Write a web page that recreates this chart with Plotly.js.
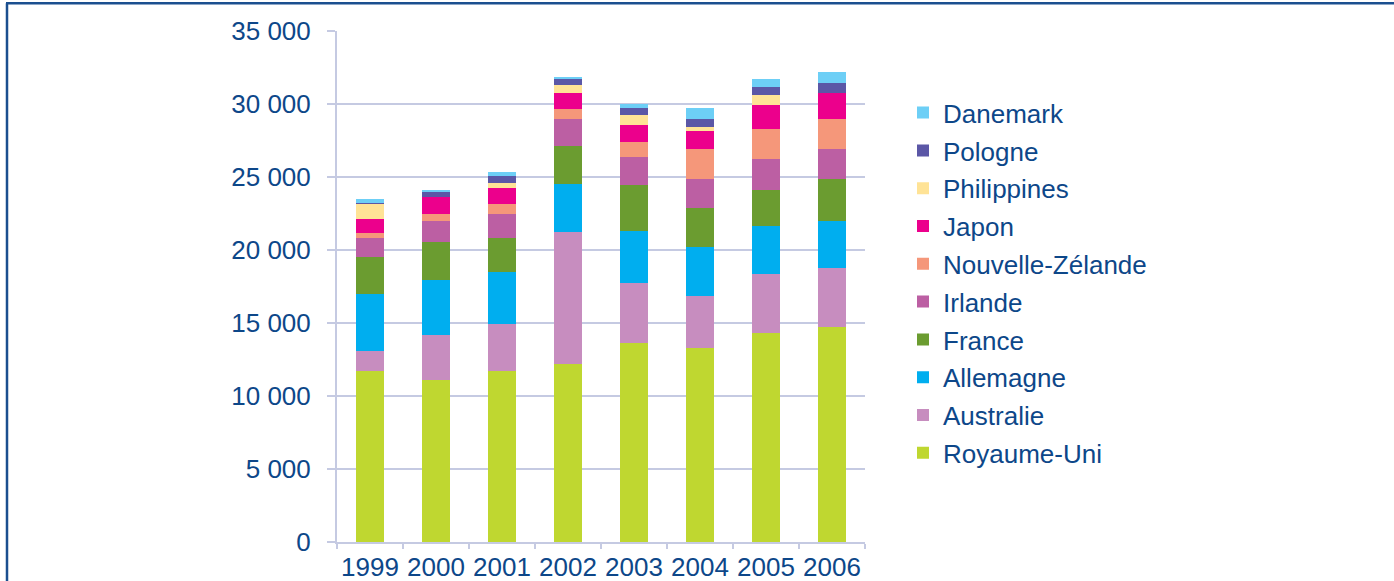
<!DOCTYPE html>
<html>
<head>
<meta charset="utf-8">
<script src="https://cdn.plot.ly/plotly-3.0.1.min.js"></script>
<style>
  html, body { margin: 0; padding: 0; background: #ffffff; }
  #chart { width: 1394px; height: 581px; }
</style>
</head>
<body>
<div id="chart"></div>
<script>
const years = ['1999', '2000', '2001', '2002', '2003', '2004', '2005', '2006'];

const royaumeUni  = [11700, 11100, 11700, 12200, 13600, 13300, 14300, 14700];
const australie   = [1400, 3100, 3250, 9000, 4150, 3550, 4050, 4100];
const allemagne   = [3900, 3750, 3550, 3350, 3550, 3350, 3300, 3200];
const france      = [2500, 2600, 2350, 2600, 3150, 2700, 2450, 2850];
const irlande     = [1300, 1450, 1650, 1800, 1950, 1950, 2100, 2050];
const nouvelleZelande = [350, 500, 650, 700, 1000, 2050, 2100, 2050];
const japon       = [950, 1100, 1100, 1100, 1150, 1250, 1600, 1800];
const philippines = [1050, 50, 350, 550, 700, 250, 700, 0];
const pologne     = [100, 300, 450, 400, 450, 550, 550, 700];
const danemark    = [250, 150, 300, 150, 300, 750, 550, 750];

const yTicks = [0, 5000, 10000, 15000, 20000, 25000, 30000, 35000];
const yTickText = ['0', '5 000', '10 000', '15 000', '20 000', '25 000', '30 000', '35 000'];

const series = [
  {name: 'Royaume-Uni', values: royaumeUni, color: '#bfd730'},
  {name: 'Australie', values: australie, color: '#c78dbf'},
  {name: 'Allemagne', values: allemagne, color: '#00aeef'},
  {name: 'France', values: france, color: '#6b9c30'},
  {name: 'Irlande', values: irlande, color: '#bc5fa3'},
  {name: 'Nouvelle-Zélande', values: nouvelleZelande, color: '#f5977a'},
  {name: 'Japon', values: japon, color: '#ec008c'},
  {name: 'Philippines', values: philippines, color: '#ffe396'},
  {name: 'Pologne', values: pologne, color: '#5b57a6'},
  {name: 'Danemark', values: danemark, color: '#6dcff6'}
];

const traces = series.map((s, i) => ({
  type: 'bar',
  name: s.name,
  x: years,
  y: s.values,
  legendgroup: s.name,
  legendrank: 1000 - i,
  marker: {color: s.color, line: {width: 0}},
  hoverinfo: 'x+y+name'
}));

const W = 1394, H = 581;
const mL = 337, mR = W - 865, mT = 30.7, mB = H - 542.4;
const pw = W - mL - mR, ph = H - mT - mB;
const px2x = p => (p - mL) / pw;
const py2y = p => (H - mB - p) / ph;

const textColor = '#0d4789';
const gridColor = '#c5cae2';
const frameColor = '#1b4f8f';
const fontFam = 'Liberation Sans, Arial, sans-serif';

const layout = {
  width: W,
  height: H,
  margin: {l: mL, r: mR, t: mT, b: mB, pad: 0},
  paper_bgcolor: '#ffffff',
  plot_bgcolor: '#ffffff',
  barmode: 'stack',
  bargap: 0.59,
  font: {family: fontFam, size: 26, color: textColor},
  showlegend: true,
  legend: {
    x: px2x(903),
    xanchor: 'left',
    y: py2y(89),
    yanchor: 'top',
    traceorder: 'grouped',
    tracegroupgap: 1,
    font: {family: fontFam, size: 26, color: textColor},
    bgcolor: 'rgba(0,0,0,0)'
  },
  xaxis: {
    type: 'category',
    showgrid: false,
    showline: true,
    linecolor: gridColor,
    linewidth: 2,
    ticks: 'outside',
    tickson: 'boundaries',
    ticklen: 5,
    tickwidth: 2,
    tickcolor: gridColor,
    tickangle: 0,
    tickfont: {family: fontFam, size: 26, color: textColor},
    ticklabelstandoff: 1,
    zeroline: false,
    fixedrange: true
  },
  yaxis: {
    range: [0, 35000],
    tickvals: yTicks,
    ticktext: yTickText,
    showgrid: true,
    gridcolor: gridColor,
    gridwidth: 2,
    showline: true,
    linecolor: gridColor,
    linewidth: 2,
    ticks: 'outside',
    ticklen: 8,
    tickwidth: 2,
    tickcolor: gridColor,
    tickfont: {family: fontFam, size: 26, color: textColor},
    ticklabelstandoff: 11,
    zeroline: false,
    fixedrange: true
  },
  shapes: [
    {type: 'line', xref: 'paper', yref: 'paper',
     x0: px2x(6), x1: px2x(1400), y0: py2y(3), y1: py2y(3),
     line: {color: frameColor, width: 2.5}},
    {type: 'line', xref: 'paper', yref: 'paper',
     x0: px2x(7), x1: px2x(7), y0: py2y(3), y1: py2y(590),
     line: {color: frameColor, width: 2.5}}
  ]
};

Plotly.newPlot('chart', traces, layout, {displayModeBar: false, staticPlot: true});
</script>
</body>
</html>
